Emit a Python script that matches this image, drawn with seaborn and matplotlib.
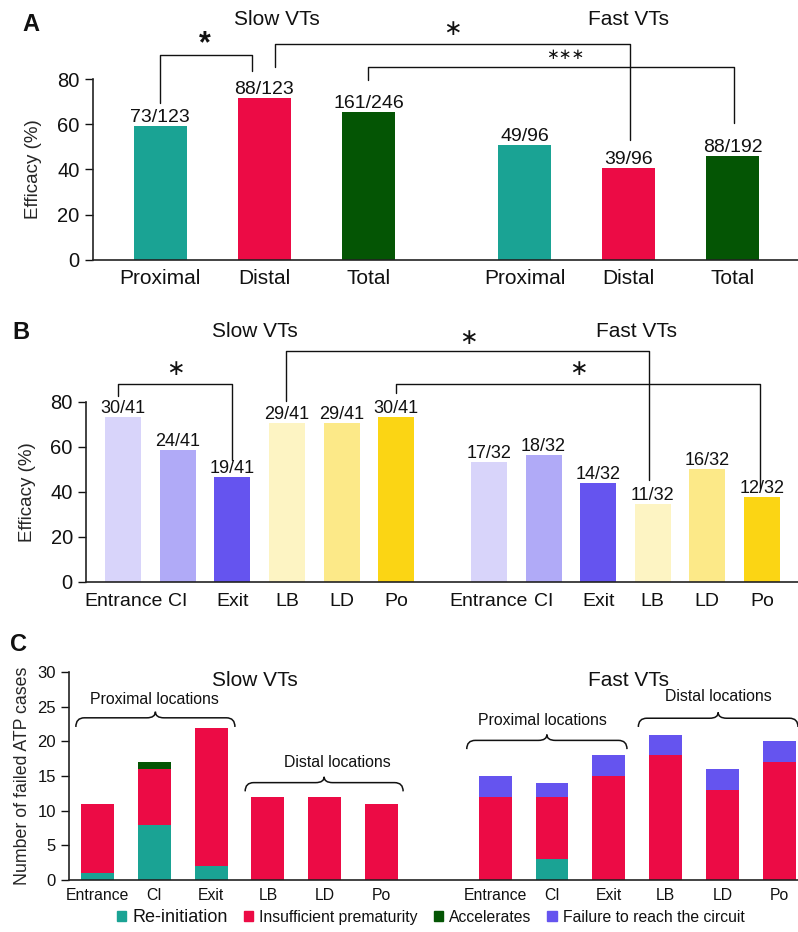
import matplotlib.pyplot as plt
import numpy as np
import pandas as pd
import seaborn as sns
from matplotlib.patches import Patch, PathPatch
from matplotlib.path import Path

# panel A: successful ATP / attempts
a_parts = ["Proximal", "Distal", "Total", "Proximal", "Distal", "Total"]
a_success = [73, 88, 161, 49, 39, 88]
a_total = [123, 123, 246, 96, 96, 192]

# panel B: per site
b_sites = ["Entrance", "CI", "Exit", "LB", "LD", "Po"] * 2
b_success = [30, 24, 19, 29, 29, 30, 17, 18, 14, 11, 16, 12]
b_total = [41, 41, 41, 41, 41, 41, 32, 32, 32, 32, 32, 32]

# panel C: failed ATP cases by mechanism
c_sites = ["Entrance", "CI", "Exit", "LB", "LD", "Po"] * 2
c_reinit = [1, 8, 2, 0, 0, 0, 0, 3, 0, 0, 0, 0]
c_insuff = [10, 8, 20, 12, 12, 11, 12, 9, 15, 18, 13, 17]
c_accel = [0, 1, 0, 0, 0, 0, 0, 0, 0, 0, 0, 0]
c_fail = [0, 0, 0, 0, 0, 0, 3, 2, 3, 3, 3, 3]
c_legend = ["Re-initiation", "Insufficient prematurity", "Accelerates",
            "Failure to reach the circuit"]

TEAL, RED, GREEN, BLUE = "#1aa394", "#ec0b45", "#045504", "#6554ef"
a_pal = {"Proximal": TEAL, "Distal": RED, "Total": GREEN}
b_pal = {"Entrance": "#d8d4fa", "CI": "#b0aaf7", "Exit": BLUE,
         "LB": "#fdf4c3", "LD": "#fce988", "Po": "#fbd514"}

sns.set_theme(style="white")
plt.rcParams["font.family"] = ["Liberation Sans", "DejaVu Sans"]
plt.rcParams["axes.edgecolor"] = "#222222"
plt.rcParams["axes.linewidth"] = 1.2
plt.rcParams["text.color"] = "#111111"
plt.rcParams["xtick.color"] = "#111111"
plt.rcParams["ytick.color"] = "#111111"


def bars(ax, x, y, hue=None, palette=None, color=None, width=0.5):
    df = pd.DataFrame({"x": x, "y": y})
    if hue is not None:
        df["hue"] = hue
        sns.barplot(data=df, x="x", y="y", hue="hue", palette=palette, dodge=False,
                    native_scale=True, width=width, saturation=1, legend=False,
                    errorbar=None, linewidth=0, ax=ax)
    else:
        sns.barplot(data=df, x="x", y="y", color=color, native_scale=True,
                    width=width, saturation=1, errorbar=None, linewidth=0, ax=ax)


def bracket(ax, x0, x1, y0, ytop, y1):
    ax.plot([x0, x0, x1, x1], [y0, ytop, ytop, y1], color="#111111", lw=1,
            clip_on=False)


def star(ax, x, y, s, size=16, bold=False):
    if bold:
        ax.text(x, y, s, ha="center", va="center", fontsize=size,
                fontweight="bold", clip_on=False)
    else:
        ax.text(x, y, s, ha="center", va="center", fontsize=size,
                family=["DejaVu Sans"], clip_on=False)


def brace(ax, x0, x1, yend, ytip, dx=0.15):
    xm = (x0 + x1) / 2
    yl = yend + 0.6 * (ytip - yend)
    verts = [(x0, yend), (x0, yl), (x0 + dx, yl), (xm - dx, yl), (xm, yl),
             (xm, ytip), (xm, yl), (xm + dx, yl), (x1 - dx, yl), (x1, yl),
             (x1, yend)]
    codes = [Path.MOVETO, Path.CURVE3, Path.CURVE3, Path.LINETO, Path.CURVE3,
             Path.CURVE3, Path.CURVE3, Path.CURVE3, Path.LINETO, Path.CURVE3,
             Path.CURVE3]
    ax.add_patch(PathPatch(Path(verts, codes), fill=False, lw=1.1,
                           edgecolor="#111111", clip_on=False))


def style(ax, ylab, ysize, xsize, lab_x, xpad):
    sns.despine(ax=ax)
    ax.tick_params(axis="y", left=True, length=5.5, width=1, pad=4,
                   labelsize=ysize)
    ax.tick_params(axis="x", bottom=False, length=0, labelsize=xsize, pad=xpad)
    ax.set_xlabel("")
    ax.set_ylabel(ylab, fontsize=ysize - 1)
    ax.yaxis.set_label_coords(lab_x, 0.5)


fig = plt.figure(figsize=(7.98, 9.32), dpi=100)

# ---------- A ----------
axA = fig.add_axes([0.1162, 0.7214, 0.884, 0.1936])
a_pos = np.r_[np.arange(3), np.arange(3) + 3.5]
a_pct = np.array(a_success) / np.array(a_total) * 100
bars(axA, a_pos, a_pct, hue=a_parts, palette=a_pal, width=0.51)
axA.set_xlim(-0.65, 6.13)
axA.set_ylim(0, 80)
axA.set_yticks([0, 20, 40, 60, 80])
axA.set_xticks(a_pos, a_parts)
style(axA, "Efficacy (%)", 14.5, 15, -0.072, 7)
for x, v, s, t in zip(a_pos, a_pct, a_success, a_total):
    axA.annotate(f"{s}/{t}", (x, v), xytext=(0, 0), textcoords="offset points",
                 ha="center", va="bottom", fontsize=14, annotation_clip=False)
axA.text(1.12, 106.3, "Slow VTs", ha="center", va="center", fontsize=15)
axA.text(4.5, 106.3, "Fast VTs", ha="center", va="center", fontsize=15)
bracket(axA, 0.0, 0.88, 69.5, 90.8, 83.7)
star(axA, 0.43, 95.5, "*", size=22, bold=True)
bracket(axA, 1.1, 4.51, 85.6, 95.7, 53.1)
star(axA, 2.81, 102.3, "\u2217", size=16)
bracket(axA, 2.0, 5.51, 79.7, 85.6, 60.5)
star(axA, 3.89, 90.8, "\u2217\u2217\u2217", size=11)

# ---------- B ----------
axB = fig.add_axes([0.1078, 0.3759, 0.8922, 0.1931])
b_pos = np.r_[np.arange(6), np.arange(6) + 6.7]
b_pct = np.array(b_success) / np.array(b_total) * 100
bars(axB, b_pos, b_pct, hue=b_sites, palette=b_pal, width=0.66)
axB.set_xlim(-0.68, 12.36)
axB.set_ylim(0, 80)
axB.set_yticks([0, 20, 40, 60, 80])
axB.set_xticks(b_pos, b_sites)
style(axB, "Efficacy (%)", 14.5, 14, -0.07, 8.5)
for x, v, s, t in zip(b_pos, b_pct, b_success, b_total):
    axB.annotate(f"{s}/{t}", (x, v), xytext=(0, 0), textcoords="offset points",
                 ha="center", va="bottom", fontsize=13, annotation_clip=False)
axB.text(2.42, 111.4, "Slow VTs", ha="center", va="center", fontsize=15)
axB.text(9.4, 111.4, "Fast VTs", ha="center", va="center", fontsize=15)
bracket(axB, -0.09, 2.0, 82.7, 87.7, 54.1)
star(axB, 0.95, 94.5, "\u2217", size=16)
bracket(axB, 2.99, 9.63, 80.4, 102.5, 45.2)
star(axB, 6.32, 108.3, "\u2217", size=16)
bracket(axB, 5.0, 11.67, 83.7, 87.9, 41.6)
star(axB, 8.33, 94.5, "\u2217", size=16)

# ---------- C ----------
axC = fig.add_axes([0.0865, 0.0558, 0.9135, 0.2229])
c_pos = np.r_[np.arange(6), np.arange(6) + 7]
layers = np.array([c_reinit, c_insuff, c_accel, c_fail])
tops = layers.cumsum(axis=0)
for top, col in zip(tops[::-1], [BLUE, GREEN, RED, TEAL]):
    bars(axC, c_pos, top, color=col, width=0.58)
axC.set_xlim(-0.5, 12.33)
axC.set_ylim(0, 30)
axC.set_yticks(range(0, 31, 5))
axC.set_xticks(c_pos, c_sites)
style(axC, "Number of failed ATP cases", 12, 11.3, -0.052, 5.5)
axC.yaxis.label.set_fontsize(12.8)
axC.text(2.77, 28.8, "Slow VTs", ha="center", va="center", fontsize=15)
axC.text(9.34, 28.8, "Fast VTs", ha="center", va="center", fontsize=15)
for x0, x1, ye, yt, tx, ty, lab in [
        (-0.38, 2.42, 22.1, 24.3, 1.01, 26.0, "Proximal locations"),
        (2.6, 5.38, 12.8, 14.9, 4.22, 16.9, "Distal locations"),
        (6.5, 9.32, 18.9, 21.0, 7.84, 23.0, "Proximal locations"),
        (9.52, 12.33, 22.1, 24.2, 10.92, 26.5, "Distal locations")]:
    brace(axC, x0, x1, ye, yt)
    axC.text(tx, ty, lab, ha="center", va="center", fontsize=11.4)

handles = [Patch(color=c) for c in [TEAL, RED, GREEN, BLUE]]
leg = axC.legend(handles, c_legend, loc="lower center", ncol=4, frameon=False,
                 bbox_to_anchor=(0.54, 0.0), bbox_transform=fig.transFigure,
                 handlelength=0.6, handleheight=0.6, handletextpad=0.4,
                 columnspacing=1.0, fontsize=11.3, borderaxespad=0.2,
                 borderpad=0.2)
leg.get_texts()[0].set_fontsize(13)

fig.text(0.039, 0.974, "A", fontsize=17, fontweight="bold", ha="center", va="center")
fig.text(0.026, 0.643, "B", fontsize=17, fontweight="bold", ha="center", va="center")
fig.text(0.023, 0.308, "C", fontsize=17, fontweight="bold", ha="center", va="center")

fig.savefig("out.png", dpi=100)
